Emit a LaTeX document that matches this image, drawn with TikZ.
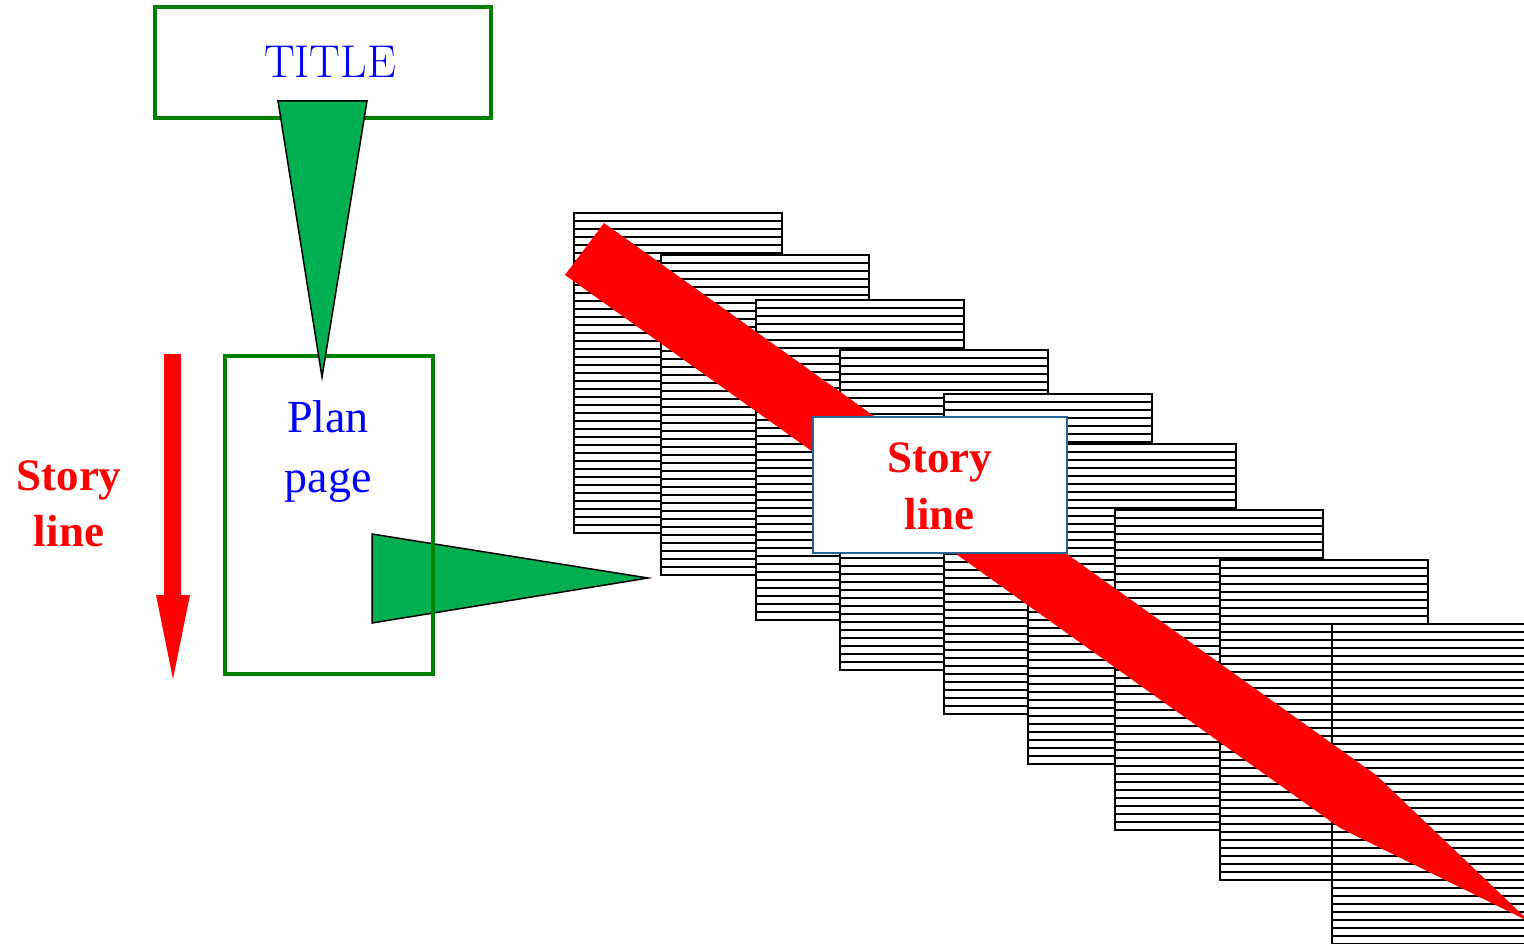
\documentclass[tikz,border=0pt]{standalone}
\usepackage{fontspec}
\newfontfamily\gara{Liberation Serif}
\definecolor{boxgreen}{RGB}{0,128,0}
\definecolor{trigreen}{RGB}{0,176,80}
\definecolor{storyblue}{RGB}{40,100,150}
\definecolor{storyred}{RGB}{255,0,0}
\tikzset{
  greenbox/.style={draw=boxgreen,line width=4.5pt,inner sep=0pt,outer sep=0pt,anchor=north west},
  storybox/.style={draw=storyblue,fill=white,line width=2pt,inner sep=0pt,outer sep=0pt,anchor=north west},
  greentri/.style={fill=trigreen,draw=black,line width=1.5pt,line join=miter},
  pageline/.style={draw=black,line width=1.8pt},
  pageborder/.style={draw=black,line width=2.2pt},
  bluetext/.style={text=blue,anchor=base,inner sep=0pt,font=\gara\fontsize{46}{46}\selectfont},
  redtext/.style={text=storyred,anchor=base,inner sep=0pt,font=\gara\bfseries\fontsize{45}{45}\selectfont},
}
\begin{document}
\begin{tikzpicture}[x=1pt,y=-1pt]
\useasboundingbox (0,0) rectangle (1524,944);
\clip (0,0) rectangle (1524,944);
% stack of pages
\foreach \px/\py in {574/213,661/255,756/300,840/350,944/394,1028/444,1115/510,1220/560,1332/624}{
  \fill[white] ({\px},{\py}) rectangle ++(208,320);
  \foreach \k in {1,...,39}
    \draw[pageline] ({\px},{\py+8*\k}) -- ++(208,0);
  \draw[pageborder] ({\px},{\py}) rectangle ++(208,320);
}
% red story band
\fill[storyred] (604,223) -- (1376,775) -- (1530,922) -- (1340,828) -- (565,275) -- cycle;
% story line box
\node[storybox,minimum width=254pt,minimum height=136pt] (story) at (813,417) {};
\node[redtext] (story1) at (939.5,472) {Story};
\node[redtext] (story2) at (939.5,529) {line};
% title box
\node[greenbox,minimum width=336pt,minimum height=111pt] (title) at (155,7) {};
\node[text=blue,anchor=base,inner sep=0pt,font=\fontsize{46}{46}\selectfont] (titletext) at (330,78) {TITLE};
% right triangle
\coordinate (rtip) at (648,578);
\filldraw[greentri] (372,534) -- (rtip) -- (372,623) -- cycle;
% plan page box
\node[greenbox,minimum width=208pt,minimum height=318pt] (plan) at (225,356) {};
\node[bluetext] (plan1) at (328,432) {Plan};
\node[bluetext] (plan2) at (328,492) {page};
% down triangle from title to plan
\coordinate (dtip) at (322,377);
\filldraw[greentri] (278,101) -- (367,101) -- (dtip) -- cycle;
% left red arrow
\fill[storyred] (164,354) -- (181,354) -- (181,595) -- (190,595) -- (173,679) -- (156,595) -- (164,595) -- cycle;
\node[redtext] (left1) at (69,490) {Story};
\node[redtext] (left2) at (69,546) {line};
\end{tikzpicture}
\end{document}
